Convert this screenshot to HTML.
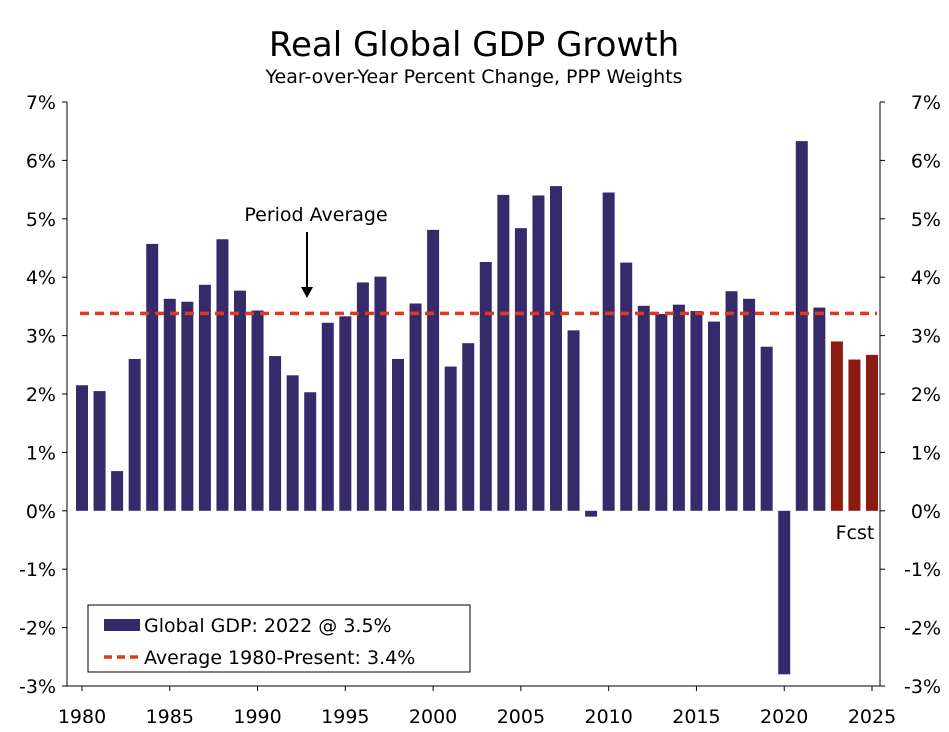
<!DOCTYPE html>
<html><head><meta charset="utf-8"><style>
body{margin:0;background:#fff;}
svg text{font-family:"DejaVu Sans","Liberation Sans",sans-serif;fill:#000;}
</style></head><body>
<svg id="chart" width="949" height="727" viewBox="0 0 949 727" xmlns="http://www.w3.org/2000/svg">
<rect x="0" y="0" width="949" height="727" fill="#fff"/>
<text x="474" y="56" font-size="34" text-anchor="middle">Real Global GDP Growth</text>
<text x="474" y="83" font-size="19" text-anchor="middle">Year-over-Year Percent Change, PPP Weights</text>
<g id="plot"></g>
</svg>
<script>
const years = [1980,1981,1982,1983,1984,1985,1986,1987,1988,1989,1990,1991,1992,1993,1994,1995,1996,1997,1998,1999,2000,2001,2002,2003,2004,2005,2006,2007,2008,2009,2010,2011,2012,2013,2014,2015,2016,2017,2018,2019,2020,2021,2022,2023,2024,2025];
const growth = [2.15,2.05,0.68,2.6,4.57,3.63,3.58,3.87,4.65,3.77,3.43,2.65,2.32,2.03,3.22,3.33,3.91,4.01,2.6,3.55,4.81,2.47,2.87,4.26,5.41,4.84,5.40,5.56,3.09,-0.1,5.45,4.25,3.51,3.37,3.53,3.42,3.24,3.76,3.63,2.81,-2.8,6.33,3.48,2.9,2.59,2.67];
const forecastFrom = 2023;
const average = 3.38;
const yTicks = [-3,-2,-1,0,1,2,3,4,5,6,7];
const xTickYears = [1980,1985,1990,1995,2000,2005,2010,2015,2020,2025];

const NS="http://www.w3.org/2000/svg";
const g=document.getElementById('plot');
const L=67,R=880,T=102,B=686,yMin=-3,yMax=7;
const y=v=>B-(v-yMin)/(yMax-yMin)*(B-T);
const x0=82,step=(872-82)/45;
const x=yr=>x0+(yr-years[0])*step;
function mk(tag,attrs){const e=document.createElementNS(NS,tag);for(const k in attrs)e.setAttribute(k,attrs[k]);g.appendChild(e);return e;}

years.forEach((yr,i)=>{
  const v=growth[i];
  const r=mk('rect',{x:x(yr)-6,y:Math.min(y(v),y(0)),width:12,height:Math.abs(y(v)-y(0)),fill:yr>=forecastFrom?'#8b1a10':'#372a6b'});
  
  
});
const avg=mk('line',{x1:80,x2:877,y1:y(average),y2:y(average),stroke:'#e2391d','stroke-width':3.5,'stroke-dasharray':'9,6'});



const axL=mk('line',{x1:L,x2:L,y1:T,y2:B,stroke:'#000','stroke-width':1});


const axR=mk('line',{x1:R,x2:R,y1:T,y2:B,stroke:'#000','stroke-width':1});


const axB=mk('line',{x1:L,x2:R,y1:B,y2:B,stroke:'#000','stroke-width':1});



yTicks.forEach(t=>{
  const a=mk('line',{x1:L-5,x2:L,y1:y(t),y2:y(t),stroke:'#000'});
  
  
  const b=mk('line',{x1:R,x2:R+5,y1:y(t),y2:y(t),stroke:'#000'});
  
  
  const l=mk('text',{x:56,y:y(t)+7,'font-size':19,'text-anchor':'end'});l.textContent=t+'%';
  
  
  const r=mk('text',{x:941,y:y(t)+7,'font-size':19,'text-anchor':'end'});r.textContent=t+'%';
  
  
});
xTickYears.forEach(yr=>{
  const t=mk('line',{x1:x(yr),x2:x(yr),y1:B,y2:B+5,stroke:'#000'});
  
  
  const l=mk('text',{x:x(yr),y:723,'font-size':19,'text-anchor':'middle'});l.textContent=yr;
  
  
});

const pa=mk('text',{x:316,y:221,'font-size':19,'text-anchor':'middle'});pa.textContent='Period Average';


const ar=mk('line',{x1:307,x2:307,y1:232,y2:290,stroke:'#000','stroke-width':2});


const ah=mk('polygon',{points:'301,287 313,287 307,298',fill:'#000'});


const fc=mk('text',{x:855,y:539,'font-size':19,'text-anchor':'middle'});fc.textContent='Fcst';



const lg=mk('rect',{x:88,y:605,width:382,height:67,fill:'#fff',stroke:'#000'});


const s1=mk('rect',{x:104,y:619,width:36,height:12,fill:'#372a6b'});


const t1=mk('text',{x:144,y:632,'font-size':19});t1.textContent='Global GDP: 2022 @ 3.5%';


const s2=mk('line',{x1:104,x2:140,y1:657,y2:657,stroke:'#e2391d','stroke-width':3.5,'stroke-dasharray':'8,5'});


const t2=mk('text',{x:144,y:664,'font-size':19});t2.textContent='Average 1980-Present: 3.4%';


</script>
</body></html>
